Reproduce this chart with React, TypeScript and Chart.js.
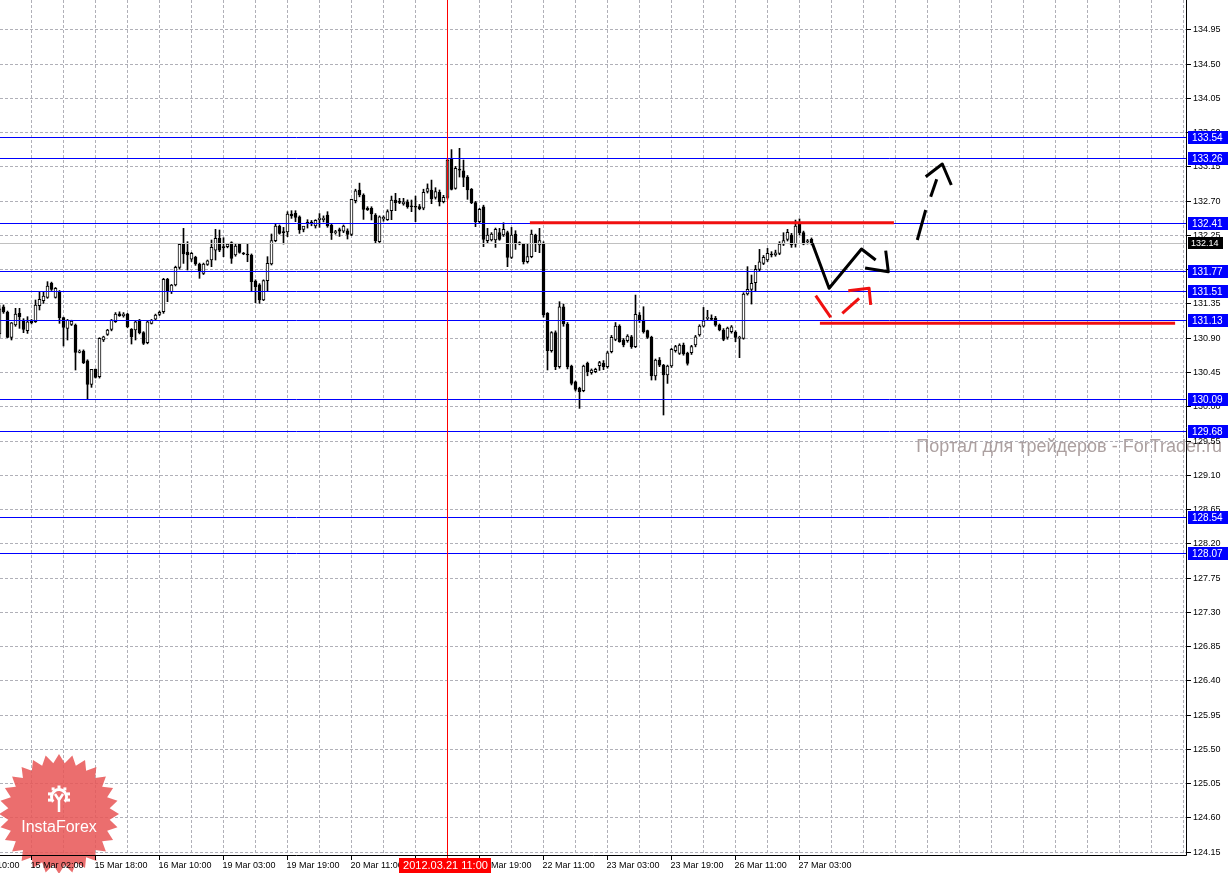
import React, { useEffect, useRef } from 'react';
import { Chart, registerables } from 'chart.js';
Chart.register(...registerables);

// ---- H1 candles (bar index 0 = 14 Mar 18:00) ----
const opens = [
  130.95, 131.307, 131.233, 130.905, 131.067, 131.22, 131.132, 130.992, 131.119, 131.11,
  131.32, 131.386, 131.43, 131.614, 131.43, 131.504, 131.163, 131.023, 131.075, 131.067,
  130.708, 130.725, 130.598, 130.288, 130.485, 130.388, 130.87, 130.944, 131.01, 131.11,
  131.215, 131.189, 131.211, 131.01, 131.001, 131.132, 130.966, 130.835, 131.089, 131.145,
  131.207, 131.242, 131.666, 131.504, 131.592, 131.824, 132.126, 132.025, 131.933, 131.955,
  131.868, 131.745, 131.863, 131.92, 132.051, 132.205, 132.095, 132.095, 132.148, 131.986,
  132.139, 132.008, 131.995, 131.986, 131.644, 131.596, 131.395, 131.649, 131.868, 132.174,
  132.367, 132.292, 132.288, 132.524, 132.533, 132.489, 132.323, 132.415, 132.42, 132.367,
  132.45, 132.45, 132.511, 132.38, 132.28, 132.32, 132.30, 132.305, 132.258, 132.70,
  132.84, 132.774, 132.60, 132.60, 132.511, 132.161, 132.46, 132.45, 132.568, 132.708,
  132.69, 132.656, 132.686, 132.63, 132.62, 132.621, 132.60, 132.82, 132.84, 132.743,
  132.81, 132.686, 132.743, 133.255, 132.86, 133.11, 133.09, 133.01, 132.848, 132.673,
  132.424, 132.62, 132.174, 132.183, 132.183, 132.279, 132.249, 132.279, 131.955, 132.262,
  132.148, 132.13, 131.90, 131.964, 132.249, 132.117, 132.139, 131.22, 130.73, 130.966,
  130.519, 131.307, 131.08, 130.528, 130.322, 130.235, 130.204, 130.563, 130.441, 130.454,
  130.533, 130.563, 130.519, 130.716, 130.878, 131.053, 130.87, 130.861, 130.913, 130.782,
  131.198, 131.132, 130.992, 130.905, 130.397, 130.607, 130.541, 130.41, 130.528, 130.73,
  130.695, 130.804, 130.695, 130.703, 130.804, 130.935, 131.053, 131.154, 131.154, 131.154,
  131.066, 131.001, 130.905, 130.979, 130.97, 130.892, 130.892, 131.474, 131.535, 131.622,
  131.797, 131.876, 131.92, 131.999, 131.986, 132.008, 132.13, 132.191, 132.248, 132.13,
  132.40, 132.279, 132.16, 132.191,
];
const highs = [
  131.33, 131.33, 131.25, 131.10, 131.286, 131.286, 131.15, 131.176, 131.14, 131.395,
  131.504, 131.504, 131.636, 131.63, 131.56, 131.52, 131.17, 131.14, 131.13, 131.08,
  130.74, 130.74, 130.61, 130.485, 130.49, 130.90, 130.92, 131.01, 131.14, 131.23,
  131.24, 131.23, 131.22, 131.02, 131.12, 131.14, 130.98, 131.12, 131.14, 131.21,
  131.25, 131.68, 131.68, 131.60, 131.84, 132.13, 132.336, 132.161, 132.02, 131.97,
  131.88, 131.88, 131.92, 132.183, 132.323, 132.314, 132.213, 132.14, 132.16, 132.14,
  132.14, 132.02, 132.13, 132.00, 131.66, 131.61, 131.66, 131.964, 132.262, 132.402,
  132.38, 132.349, 132.555, 132.568, 132.568, 132.50, 132.36, 132.45, 132.44, 132.45,
  132.53, 132.50, 132.555, 132.40, 132.31, 132.34, 132.38, 132.33, 132.72, 132.85,
  132.93, 132.79, 132.62, 132.62, 132.53, 132.50, 132.50, 132.58, 132.76, 132.796,
  132.73, 132.73, 132.71, 132.708, 132.76, 132.65, 132.85, 132.92, 132.97, 132.87,
  132.84, 132.77, 133.25, 133.37, 133.15, 133.387, 133.233, 133.03, 132.86, 132.69,
  132.60, 132.64, 132.336, 132.28, 132.34, 132.336, 132.41, 132.30, 132.349, 132.305,
  132.16, 132.14, 132.13, 132.314, 132.26, 132.336, 132.16, 131.23, 130.98, 130.99,
  131.373, 131.342, 131.10, 130.54, 130.33, 130.25, 130.54, 130.58, 130.49, 130.50,
  130.59, 130.60, 130.72, 130.93, 131.10, 131.07, 130.89, 130.94, 130.93, 131.46,
  131.23, 131.307, 131.00, 130.92, 130.62, 130.64, 130.55, 130.54, 130.76, 130.80,
  130.82, 130.83, 130.71, 130.80, 130.93, 131.07, 131.298, 131.26, 131.20, 131.18,
  131.08, 131.02, 131.04, 131.06, 130.99, 130.92, 131.49, 131.833, 131.723, 131.85,
  132.06, 131.98, 132.073, 132.03, 132.05, 132.161, 132.279, 132.323, 132.27, 132.445,
  132.46, 132.30, 132.19, 132.21,
];
const lows = [
  130.90, 131.22, 130.90, 130.87, 131.05, 131.023, 130.966, 130.957, 131.08, 131.10,
  131.264, 131.351, 131.417, 131.52, 131.42, 131.089, 130.791, 130.87, 131.06, 130.476,
  130.70, 130.56, 130.09, 130.248, 130.37, 130.37, 130.85, 130.93, 130.99, 131.10,
  131.18, 131.17, 131.03, 130.817, 130.87, 130.95, 130.81, 130.82, 131.08, 131.13,
  131.19, 131.22, 131.373, 131.48, 131.58, 131.80, 131.876, 131.789, 131.90, 131.85,
  131.68, 131.73, 131.85, 131.833, 131.92, 132.03, 131.964, 132.08, 131.876, 131.97,
  132.01, 131.99, 131.898, 131.504, 131.36, 131.351, 131.386, 131.504, 131.855, 132.16,
  132.26, 132.13, 132.227, 132.467, 132.424, 132.27, 132.29, 132.34, 132.37, 132.34,
  132.35, 132.42, 132.35, 132.19, 132.26, 132.23, 132.28, 132.196, 132.24, 132.67,
  132.75, 132.454, 132.57, 132.446, 132.148, 132.15, 132.43, 132.44, 132.45, 132.568,
  132.66, 132.64, 132.60, 132.555, 132.424, 132.58, 132.58, 132.80, 132.66, 132.72,
  132.63, 132.67, 132.72, 132.84, 132.85, 133.01, 132.883, 132.717, 132.66, 132.358,
  132.40, 132.095, 132.148, 132.17, 132.086, 132.18, 132.23, 131.833, 131.94, 132.06,
  132.12, 131.868, 131.88, 131.95, 132.03, 132.017, 131.17, 130.476, 130.71, 130.48,
  130.50, 131.05, 130.49, 130.28, 130.20, 129.972, 130.19, 130.40, 130.42, 130.44,
  130.47, 130.48, 130.50, 130.70, 130.86, 130.84, 130.78, 130.84, 130.76, 130.77,
  131.10, 130.96, 130.89, 130.344, 130.344, 130.52, 129.885, 130.30, 130.51, 130.71,
  130.68, 130.67, 130.54, 130.68, 130.78, 130.92, 131.04, 131.13, 131.13, 131.05,
  130.99, 130.86, 130.88, 130.96, 130.848, 130.638, 130.88, 131.46, 131.342, 131.504,
  131.78, 131.86, 131.90, 131.96, 131.97, 131.99, 132.11, 132.17, 132.086, 132.09,
  132.25, 132.12, 132.13, 132.12,
];
const closes = [
  131.28, 131.24, 130.905, 131.097, 131.211, 131.176, 131.01, 131.11, 131.097, 131.329,
  131.404, 131.447, 131.579, 131.535, 131.548, 131.163, 131.036, 131.132, 131.119, 130.708,
  130.725, 130.572, 130.288, 130.485, 130.379, 130.891, 130.913, 131.001, 131.132, 131.211,
  131.189, 131.211, 131.045, 130.913, 131.11, 130.966, 130.826, 131.11, 131.132, 131.198,
  131.233, 131.666, 131.504, 131.592, 131.824, 132.126, 131.999, 131.986, 132.008, 131.868,
  131.767, 131.868, 131.911, 132.086, 132.205, 132.051, 132.082, 132.13, 131.942, 132.104,
  132.021, 131.999, 131.986, 131.636, 131.57, 131.395, 131.649, 131.876, 132.174, 132.367,
  132.27, 132.279, 132.524, 132.498, 132.48, 132.314, 132.367, 132.40, 132.40, 132.44,
  132.471, 132.47, 132.367, 132.279, 132.29, 132.30, 132.367, 132.258, 132.717, 132.83,
  132.774, 132.586, 132.58, 132.524, 132.174, 132.489, 132.48, 132.555, 132.708, 132.673,
  132.677, 132.686, 132.621, 132.62, 132.613, 132.594, 132.81, 132.857, 132.721, 132.82,
  132.686, 132.743, 133.233, 132.848, 133.124, 133.10, 133.006, 132.84, 132.673, 132.424,
  132.586, 132.192, 132.249, 132.262, 132.323, 132.192, 132.323, 131.955, 132.249, 132.148,
  132.13, 131.898, 131.964, 132.262, 132.148, 132.174, 131.198, 130.73, 130.966, 130.519,
  131.307, 131.08, 130.519, 130.30, 130.222, 130.191, 130.528, 130.454, 130.476, 130.484,
  130.572, 130.519, 130.703, 130.905, 131.053, 130.848, 130.804, 130.922, 130.782, 131.207,
  131.123, 130.979, 130.905, 130.397, 130.607, 130.541, 130.41, 130.528, 130.747, 130.782,
  130.804, 130.686, 130.563, 130.782, 130.913, 131.053, 131.123, 131.167, 131.141, 131.066,
  131.001, 130.878, 131.027, 131.044, 130.905, 130.905, 131.474, 131.535, 131.614, 131.797,
  131.898, 131.955, 132.008, 131.986, 132.016, 132.13, 132.174, 132.283, 132.117, 132.367,
  132.28, 132.13, 132.17, 132.14,
];

// ---- axis ticks ----
const timeTickIndex = [-8, 8, 24, 40, 56, 72, 88, 104, 120, 136, 152, 168, 184, 200];
const timeTickLabels = [
  '14 Mar 10:00', '15 Mar 02:00', '15 Mar 18:00', '16 Mar 10:00', '19 Mar 03:00', '19 Mar 19:00',
  '20 Mar 11:00', '21 Mar 03:00', '21 Mar 19:00', '22 Mar 11:00', '23 Mar 03:00', '23 Mar 19:00',
  '26 Mar 11:00', '27 Mar 03:00',
];
const priceTicks = [
  124.15, 124.60, 125.05, 125.50, 125.95, 126.40, 126.85, 127.30, 127.75, 128.20, 128.65, 129.10,
  129.55, 130.00, 130.45, 130.90, 131.35, 131.80, 132.25, 132.70, 133.15, 133.60, 134.05, 134.50, 134.95,
];

// ---- chart objects ----
const levelLines = [133.54, 133.26, 132.41, 131.77, 131.51, 131.13, 130.09, 129.68, 128.54, 128.07];
const bidPrice = 132.14;
const markerIndex = 112;
const markerLabel = '2012.03.21 11:00';
const watermark = 'Портал для трейдеров - ForTrader.ru';
const logoText = 'InstaForex';

// hand-drawn paths as [barIndex, price]
const redPaths: number[][][] = [
  [[132.6, 132.41], [223.6, 132.41]],
  [[205.1, 131.09], [293.9, 131.09]],
  [[204.05, 131.452], [207.8, 131.168]],
  [[210.7, 131.22], [214.9, 131.418]],
  [[212.2, 131.517], [217.4, 131.549], [217.8, 131.33]],
];
const blackPaths: number[][][] = [
  [[203.2, 132.14], [207.4, 131.549], [215.5, 132.065], [219.05, 131.92]],
  [[216.4, 131.815], [222.2, 131.767], [221.55, 132.043]],
  [[229.45, 132.183], [231.55, 132.577]],
  [[232.8, 132.752], [234.3, 132.98]],
  [[231.55, 133.014], [235.7, 133.181], [237.95, 132.905]],
];

const FONT = '"Liberation Sans", Arial, sans-serif';
const GRID = '#b0b0b8';
const LEVEL = '#0000ff';

const mt4Plugin = {
  id: 'mt4',
  beforeDraw(chart: any) {
    const { ctx, chartArea: a, scales } = chart;
    const x = scales.x, y = scales.y;
    ctx.save();
    ctx.fillStyle = '#fff';
    ctx.fillRect(0, 0, chart.width, chart.height);
    ctx.strokeStyle = GRID;
    ctx.lineWidth = 1;
    ctx.setLineDash([3, 2]);
    ctx.beginPath();
    priceTicks.forEach((p) => {
      const py = Math.round(y.getPixelForValue(p)) + 0.5;
      ctx.moveTo(a.left, py);
      ctx.lineTo(a.right, py);
    });
    for (let i = 8; i <= x.max; i += 8) {
      const px = Math.floor(x.getPixelForValue(i)) + 0.5;
      ctx.moveTo(px, a.top);
      ctx.lineTo(px, a.bottom);
    }
    ctx.stroke();
    ctx.restore();
  },
  afterDatasetsDraw(chart: any) {
    const { ctx, chartArea: a, scales } = chart;
    const x = scales.x, y = scales.y;
    const X = (v: number) => x.getPixelForValue(v);
    const Y = (v: number) => y.getPixelForValue(v);
    ctx.save();
    ctx.setLineDash([]);
    ctx.lineWidth = 1;

    // bid line
    ctx.strokeStyle = '#c0c0c0';
    const by = Math.round(Y(bidPrice)) + 0.5;
    ctx.beginPath(); ctx.moveTo(a.left, by); ctx.lineTo(a.right, by); ctx.stroke();

    // level lines
    ctx.strokeStyle = LEVEL;
    ctx.beginPath();
    levelLines.forEach((p) => {
      const py = Math.round(Y(p)) + 0.5;
      ctx.moveTo(a.left, py); ctx.lineTo(a.right, py);
    });
    ctx.stroke();

    // vertical marker line
    const mx = Math.floor(X(markerIndex)) + 0.5;
    ctx.strokeStyle = '#ff0000';
    ctx.beginPath(); ctx.moveTo(mx, a.top); ctx.lineTo(mx, a.bottom + 3); ctx.stroke();

    // drawings
    const drawPaths = (paths: number[][][], color: string) => {
      ctx.strokeStyle = color;
      ctx.lineWidth = 3;
      ctx.lineJoin = 'round';
      ctx.lineCap = 'butt';
      paths.forEach((path) => {
        ctx.beginPath();
        path.forEach(([i, p], k) => {
          if (k === 0) ctx.moveTo(X(i), Y(p)); else ctx.lineTo(X(i), Y(p));
        });
        ctx.stroke();
      });
    };
    drawPaths(redPaths, '#f01010');
    drawPaths(blackPaths, '#000000');

    // watermark
    ctx.fillStyle = '#aca0a0';
    ctx.font = `18px ${FONT}`;
    ctx.textAlign = 'right';
    ctx.textBaseline = 'alphabetic';
    ctx.fillText(watermark, a.right + 36, 452);

    // logo starburst
    const cx = 59, cy = 814, R = 60, r = 51, N = 28;
    ctx.fillStyle = 'rgba(232, 86, 86, 0.86)';
    ctx.beginPath();
    for (let k = 0; k < N * 2; k++) {
      const ang = (Math.PI * k) / N - Math.PI / 2;
      const rad = k % 2 === 0 ? R : r;
      const px = cx + rad * Math.cos(ang), py = cy + rad * Math.sin(ang);
      if (k === 0) ctx.moveTo(px, py); else ctx.lineTo(px, py);
    }
    ctx.closePath();
    ctx.fill();
    // icon
    ctx.strokeStyle = '#fff';
    ctx.fillStyle = '#fff';
    ctx.lineWidth = 3;
    ctx.beginPath(); ctx.arc(cx, 797, 7.5, Math.PI * 0.78, Math.PI * 2.22); ctx.stroke();
    for (let t = 0; t < 7; t++) {
      const ang = Math.PI * 0.9 + (t * Math.PI * 1.2) / 6;
      ctx.fillRect(cx + 10 * Math.cos(ang) - 1.5, 797 + 10 * Math.sin(ang) - 1.5, 3, 3);
    }
    ctx.lineWidth = 2.5;
    ctx.beginPath();
    ctx.moveTo(cx - 4, 794); ctx.lineTo(cx, 800); ctx.lineTo(cx + 4, 794);
    ctx.moveTo(cx, 799); ctx.lineTo(cx, 812);
    ctx.stroke();
    ctx.fillStyle = '#fff';
    ctx.font = `16px ${FONT}`;
    ctx.textAlign = 'center';
    ctx.fillText(logoText, cx, 832);

    // axis frame
    ctx.strokeStyle = '#000';
    ctx.lineWidth = 1;
    ctx.beginPath();
    ctx.moveTo(0, a.bottom + 0.5); ctx.lineTo(a.right + 0.5, a.bottom + 0.5);
    ctx.moveTo(a.right + 0.5, 0); ctx.lineTo(a.right + 0.5, a.bottom + 0.5);
    ctx.stroke();

    // price ticks
    ctx.fillStyle = '#000';
    ctx.font = `9px ${FONT}`;
    ctx.textAlign = 'left';
    ctx.textBaseline = 'middle';
    ctx.beginPath();
    priceTicks.forEach((p) => {
      const py = Math.round(Y(p)) + 0.5;
      ctx.moveTo(a.right + 1, py); ctx.lineTo(a.right + 5, py);
      ctx.fillText(p.toFixed(2), a.right + 7, py + 0.5);
    });
    ctx.stroke();

    // time ticks
    ctx.textBaseline = 'alphabetic';
    ctx.beginPath();
    timeTickIndex.forEach((i, k) => {
      const px = Math.floor(X(i)) + 0.5;
      ctx.moveTo(px, a.bottom + 1); ctx.lineTo(px, a.bottom + 5);
      ctx.fillText(timeTickLabels[k], px - 1, 868);
    });
    ctx.stroke();

    // level price labels
    ctx.font = `10px ${FONT}`;
    ctx.textBaseline = 'middle';
    levelLines.forEach((p) => {
      const py = Math.round(Y(p));
      ctx.fillStyle = LEVEL;
      ctx.fillRect(a.right + 2, py - 6, 40, 13);
      ctx.fillStyle = '#fff';
      ctx.fillText(p.toFixed(2), a.right + 6, py + 1);
    });
    // bid label
    const bpy = Math.round(Y(bidPrice));
    ctx.fillStyle = '#000';
    ctx.fillRect(a.right + 2, bpy - 6, 35, 12);
    ctx.fillStyle = '#fff';
    ctx.font = `9px ${FONT}`;
    ctx.fillText(bidPrice.toFixed(2), a.right + 5, bpy + 0.5);

    // marker time label
    ctx.fillStyle = '#ff0000';
    ctx.fillRect(mx - 48.5, a.bottom + 3, 92, 15);
    ctx.fillStyle = '#fff';
    ctx.font = `11px ${FONT}`;
    ctx.textAlign = 'center';
    ctx.textBaseline = 'alphabetic';
    ctx.fillText(markerLabel, mx - 2, 869);

    ctx.restore();
  },
};

export default function App() {
  const ref = useRef<HTMLCanvasElement>(null);
  useEffect(() => {
    document.body.style.margin = '0';
    const canvas = ref.current!;
    const idx = opens.map((_, i) => i);
    const chart = new Chart(canvas, {
      type: 'bar',
      data: {
        datasets: [
          {
            label: 'bodies',
            order: 1,
            data: idx.map((i) => ({ x: i, y: [opens[i], closes[i]] })) as any,
            backgroundColor: idx.map((i) => (closes[i] >= opens[i] ? '#ffffff' : '#000000')),
            borderColor: '#000000',
            borderWidth: 1,
            borderSkipped: false,
            barThickness: 3,
            minBarLength: 1,
            grouped: false,
          } as any,
          {
            label: 'wicks',
            order: 2,
            data: idx.map((i) => ({ x: i, y: [lows[i], highs[i]] })) as any,
            backgroundColor: '#000000',
            borderWidth: 0,
            barThickness: 1,
            grouped: false,
          } as any,
        ],
      },
      options: {
        responsive: false,
        animation: false,
        devicePixelRatio: 1,
        layout: { padding: { left: 0, top: 0, right: 42, bottom: 18 } },
        scales: {
          x: { type: 'linear', min: 0.125, max: 0.125 + 1186 / 4, display: false, offset: false },
          y: { type: 'linear', min: 135.3348 - 855 / 76.15, max: 135.3348, display: false },
        },
        plugins: { legend: { display: false }, tooltip: { enabled: false }, title: { display: false } },
      },
      plugins: [mt4Plugin],
    });
    return () => chart.destroy();
  }, []);
  return <canvas ref={ref} width={1228} height={873} style={{ display: 'block', width: 1228, height: 873 }} />;
}
